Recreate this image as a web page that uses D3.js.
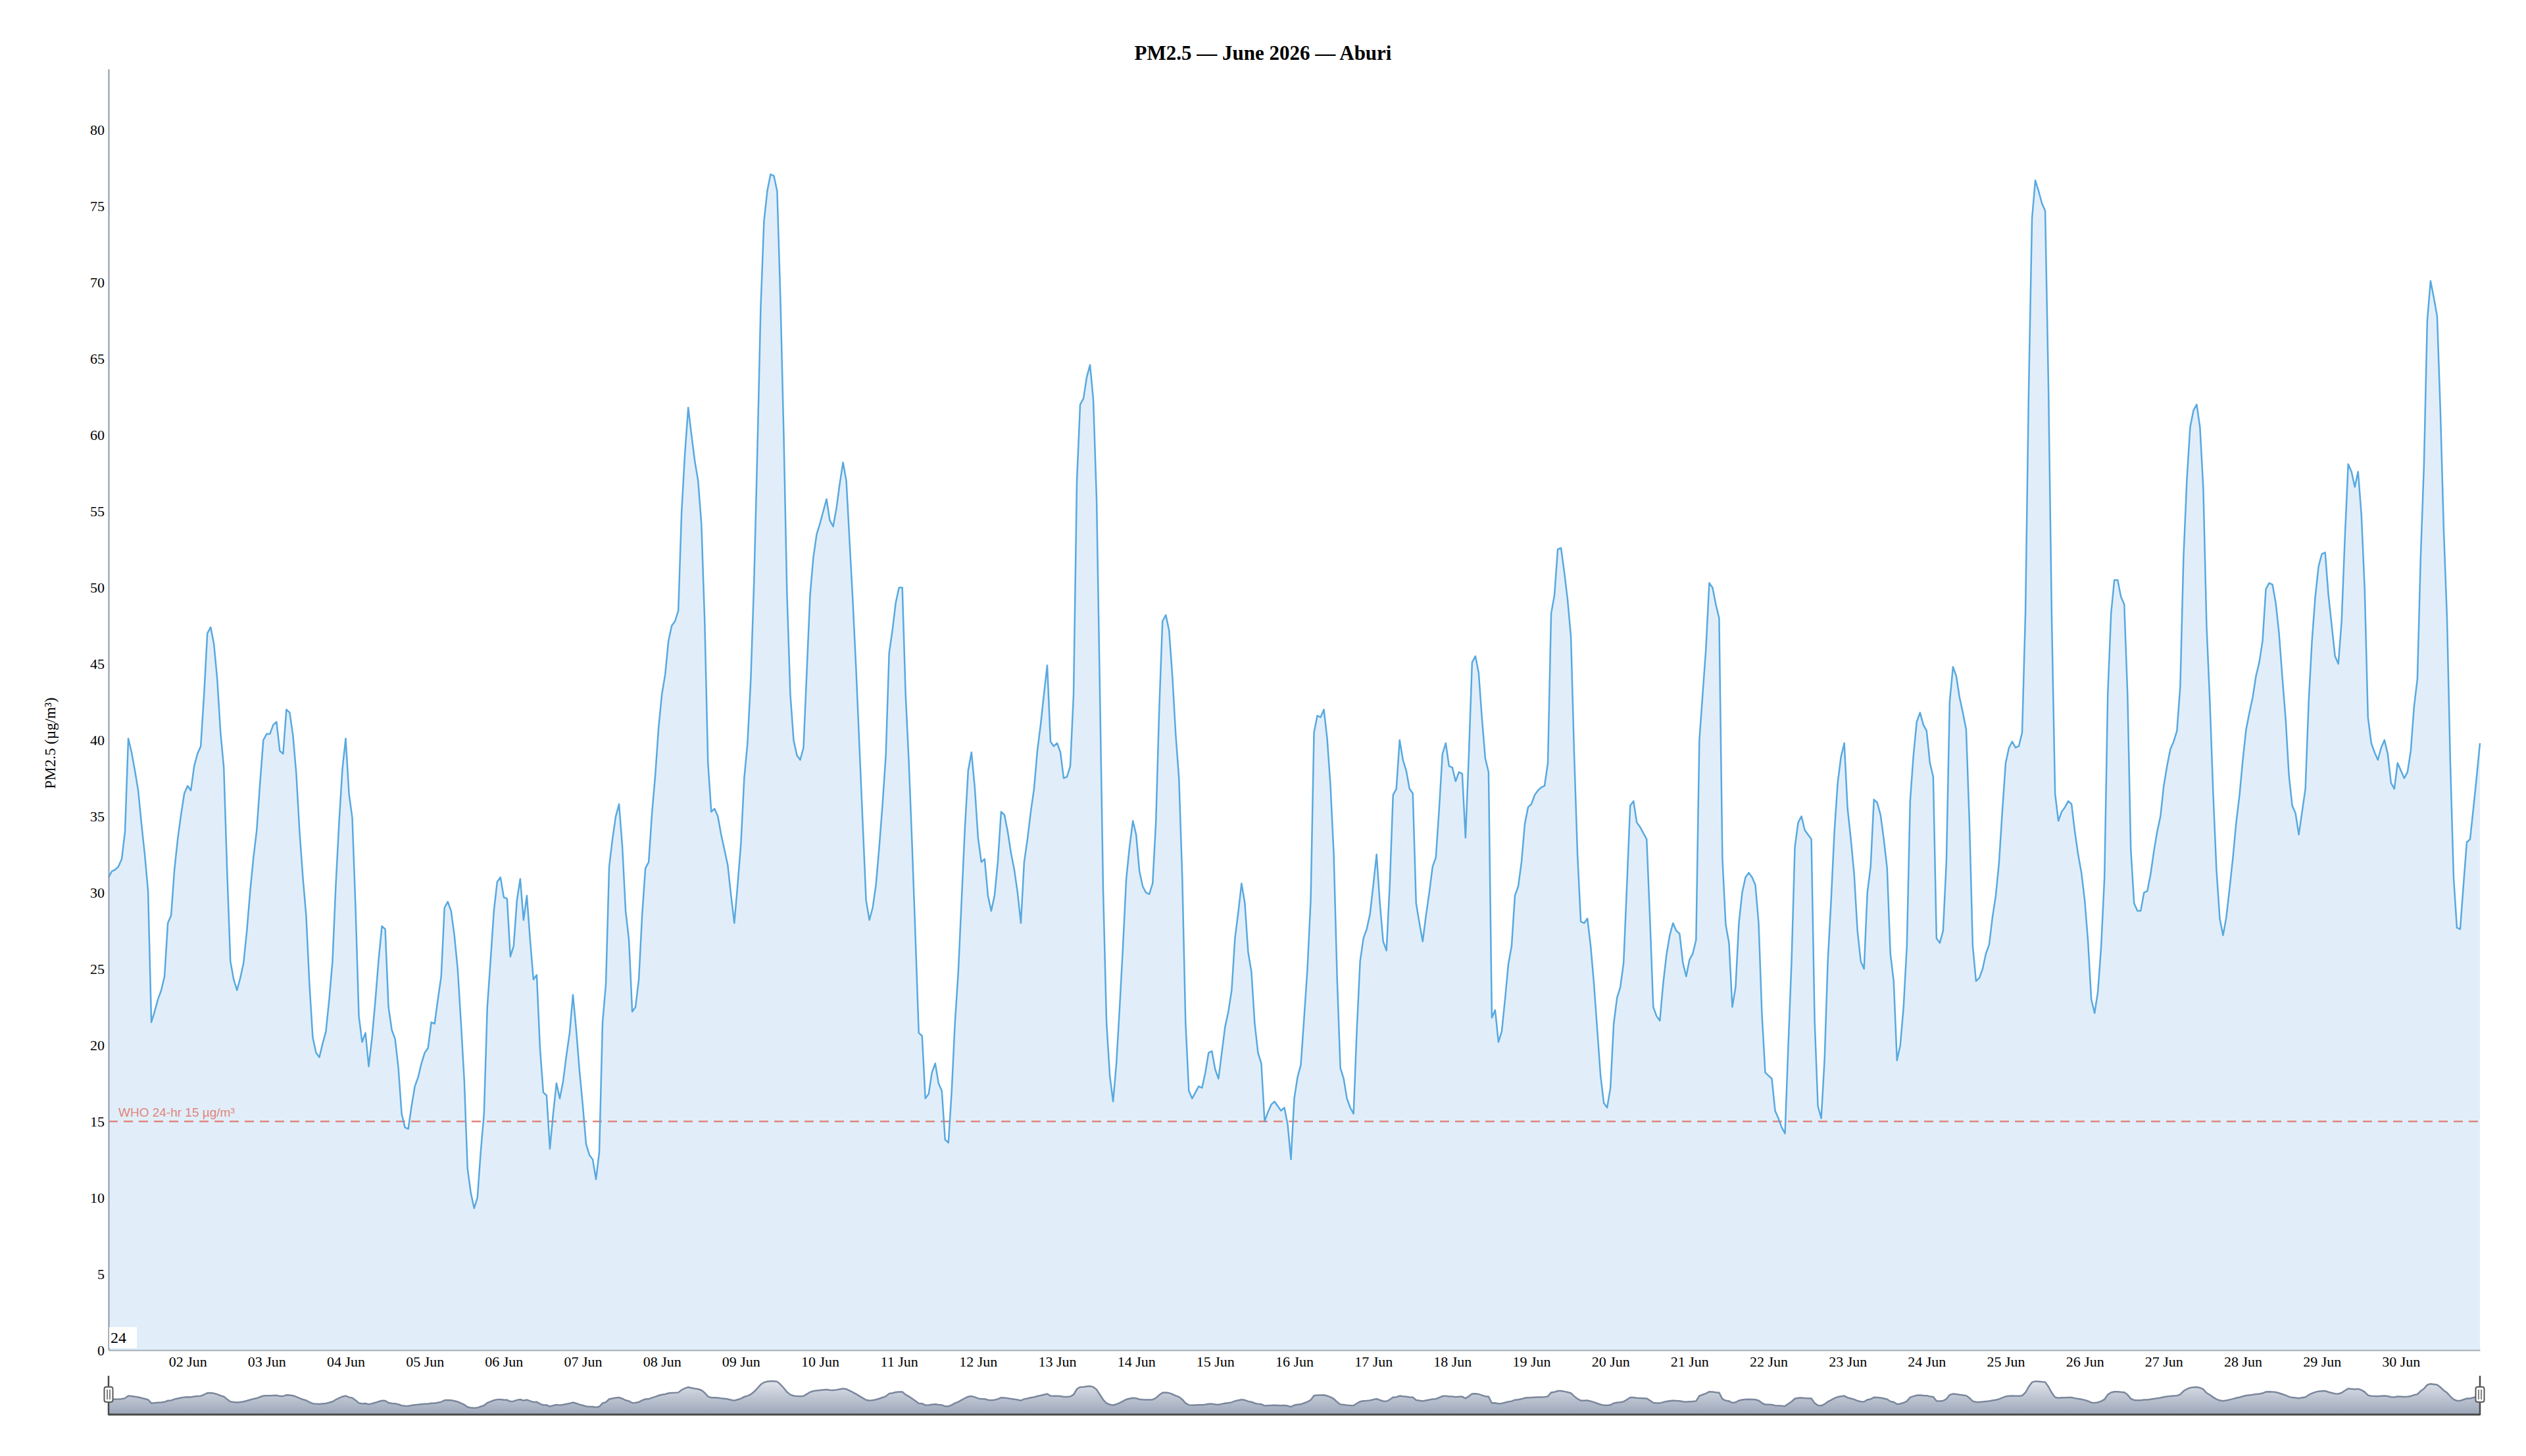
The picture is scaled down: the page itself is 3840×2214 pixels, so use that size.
<!DOCTYPE html>
<html lang="en">
<head>
<meta charset="UTF-8">
<title>PM2.5 — June 2026 — Aburi</title>
<style>
  body { margin: 0; background: #fff; }
  svg text { font-family: "Liberation Serif", "Times New Roman", serif; }
</style>
</head>
<body>
<div id="chart"></div>

<script src="https://cdn.jsdelivr.net/npm/d3@7"></script>

<script>
    // Hourly PM2.5 (µg/m³), one row per day, 00:00 .. 23:00 (UTC)
    var pm25 = [
        /* 01 Jun */ 31.0,31.4,31.5,31.7,32.2,34.0,40.1,39.2,38.0,36.7,34.5,32.5,30.1,21.5,22.2,23.0,23.6,24.5,28.0,28.5,31.5,33.5,35.1,36.5,
        /* 02 Jun */ 37.0,36.7,38.3,39.1,39.6,43.0,47.0,47.4,46.3,44.0,40.5,38.2,31.4,25.5,24.3,23.6,24.4,25.4,27.5,30.1,32.3,34.1,37.2,40.0,
        /* 03 Jun */ 40.4,40.4,41.0,41.2,39.3,39.1,42.0,41.8,40.3,37.8,34.0,31.0,28.5,24.0,20.5,19.5,19.2,20.1,20.9,23.0,25.5,30.5,34.6,38.1,
        /* 04 Jun */ 40.1,36.5,34.9,29.0,21.9,20.2,20.8,18.6,20.5,22.9,25.6,27.8,27.6,22.5,21.0,20.4,18.5,15.5,14.6,14.5,16.0,17.3,17.9,18.8,
        /* 05 Jun */ 19.5,19.8,21.5,21.4,23.0,24.5,29.0,29.4,28.8,27.2,25.0,21.5,17.7,11.9,10.3,9.3,10.0,13.0,15.5,22.5,25.6,28.8,30.7,31.0,
        /* 06 Jun */ 29.7,29.6,25.8,26.5,29.5,30.9,28.2,29.8,26.9,24.3,24.6,19.8,16.9,16.7,13.2,15.5,17.5,16.5,17.6,19.3,20.8,23.3,21.0,18.3,
        /* 07 Jun */ 16.0,13.5,12.8,12.5,11.2,13.0,21.5,24.0,31.7,33.5,35.0,35.8,33.0,28.8,26.9,22.2,22.5,24.3,28.5,31.6,32.0,35.2,37.7,40.8,
        /* 08 Jun */ 43.0,44.3,46.5,47.5,47.8,48.5,55.0,58.8,61.8,60.0,58.3,57.0,54.2,47.8,38.5,35.3,35.5,35.0,33.8,32.8,31.8,29.8,28.0,30.5,
        /* 09 Jun */ 33.2,37.5,39.8,44.0,50.5,59.0,68.3,74.0,76.0,77.1,77.0,76.0,68.9,60.0,49.5,43.0,40.0,39.0,38.7,39.5,44.5,49.5,52.0,53.5,
        /* 10 Jun */ 54.2,55.0,55.8,54.4,54.0,55.2,56.8,58.2,57.0,53.0,49.0,44.5,39.5,34.5,29.5,28.2,29.0,30.5,33.0,35.8,39.0,45.7,47.2,49.0,
        /* 11 Jun */ 50.0,50.0,43.0,38.5,33.0,27.0,20.8,20.6,16.5,16.8,18.2,18.8,17.5,17.0,13.8,13.6,17.0,21.5,24.8,29.5,34.2,38.0,39.2,36.9,
        /* 12 Jun */ 33.6,32.0,32.2,29.8,28.8,29.8,32.0,35.3,35.1,34.0,32.6,31.5,30.0,28.0,32.0,33.5,35.3,36.8,39.3,41.0,43.0,44.9,39.9,39.6,
        /* 13 Jun */ 39.8,39.2,37.5,37.6,38.3,43.0,57.0,62.0,62.4,63.8,64.6,62.3,55.7,43.0,30.0,21.5,18.0,16.3,18.8,22.5,26.5,30.9,33.0,34.7,
        /* 14 Jun */ 33.8,31.4,30.4,30.0,29.9,30.6,34.6,42.0,47.8,48.2,47.2,44.2,40.4,37.5,31.0,21.5,17.0,16.5,16.9,17.3,17.2,18.2,19.5,19.6,
        /* 15 Jun */ 18.4,17.8,19.5,21.2,22.2,23.6,27.0,28.7,30.6,29.3,26.1,24.8,21.4,19.5,18.8,15.0,15.6,16.1,16.3,16.0,15.7,15.9,14.8,12.5,
        /* 16 Jun */ 16.5,17.9,18.7,21.8,25.0,29.5,40.5,41.6,41.5,42.0,40.1,37.0,32.5,24.5,18.5,17.8,16.5,15.9,15.5,21.0,25.5,27.0,27.6,28.6,
        /* 17 Jun */ 30.5,32.5,29.3,26.8,26.2,30.5,36.4,36.8,40.0,38.7,38.0,36.8,36.5,29.3,28.0,26.8,28.5,30.0,31.7,32.3,35.5,39.1,39.8,38.3,
        /* 18 Jun */ 38.2,37.3,37.9,37.8,33.6,39.0,45.1,45.5,44.4,41.4,38.8,37.9,21.8,22.3,20.2,20.9,23.0,25.3,26.5,29.8,30.4,32.0,34.5,35.6,
        /* 19 Jun */ 35.8,36.4,36.7,36.9,37.0,38.5,48.3,49.5,52.5,52.6,51.0,49.2,46.8,39.0,32.5,28.1,28.0,28.3,26.5,24.0,21.0,18.0,16.2,15.9,
        /* 20 Jun */ 17.2,21.4,23.1,23.8,25.4,30.5,35.7,36.0,34.6,34.3,33.9,33.5,28.3,22.5,21.9,21.6,24.0,25.9,27.2,28.0,27.5,27.3,25.4,24.5,
        /* 21 Jun */ 25.6,26.0,26.9,40.0,43.0,46.0,50.3,50.0,48.9,48.0,32.2,27.9,26.7,22.5,23.8,28.0,30.0,31.0,31.3,31.0,30.5,28.0,22.0,18.2,
        /* 22 Jun */ 18.0,17.8,15.7,15.2,14.6,14.2,20.0,25.5,33.0,34.6,35.0,34.1,33.8,33.5,21.6,16.0,15.2,19.0,25.5,29.5,34.0,37.2,38.9,39.8,
        /* 23 Jun */ 35.5,33.5,31.2,27.5,25.5,25.0,30.0,31.7,36.1,35.9,35.1,33.5,31.6,26.0,24.2,19.0,20.0,22.5,26.5,36.0,39.0,41.2,41.8,41.0,
        /* 24 Jun */ 40.6,38.5,37.6,27.0,26.7,27.5,32.0,42.5,44.8,44.2,42.8,41.8,40.7,34.6,26.5,24.2,24.4,25.0,26.0,26.6,28.4,29.8,32.0,35.4,
        /* 25 Jun */ 38.5,39.5,39.9,39.5,39.6,40.5,48.3,63.0,74.2,76.7,76.0,75.2,74.7,63.0,47.8,36.5,34.7,35.3,35.6,36.0,35.8,34.0,32.5,31.3,
        /* 26 Jun */ 29.5,26.8,23.0,22.1,23.5,26.5,31.0,43.0,48.3,50.5,50.5,49.4,48.9,43.0,32.8,29.3,28.8,28.8,30.0,30.1,31.2,32.7,34.0,35.0,
        /* 27 Jun */ 37.0,38.3,39.4,39.9,40.6,43.5,52.0,57.0,60.5,61.6,62.0,60.5,56.5,47.5,42.5,36.5,31.5,28.3,27.2,28.4,30.3,32.3,34.6,36.4,
        /* 28 Jun */ 38.7,40.7,41.8,42.8,44.2,45.1,46.5,49.9,50.3,50.2,49.0,47.0,44.1,41.4,37.7,35.7,35.2,33.8,35.3,36.8,42.5,46.5,49.4,51.4,
        /* 29 Jun */ 52.2,52.3,49.5,47.5,45.5,45.0,47.8,53.3,58.1,57.6,56.6,57.6,54.8,49.9,41.5,39.8,39.2,38.7,39.5,40.0,39.1,37.2,36.8,38.5,
        /* 30 Jun */ 38.0,37.5,37.9,39.3,42.2,44.0,52.0,58.0,67.5,70.1,69.0,67.8,61.5,53.8,48.0,38.5,31.0,27.7,27.6,30.5,33.3,33.5,35.5,37.6,
        /* 01 Jul 00:00 */ 39.8
    ];

    var startTime = Date.UTC(2026, 5, 1, 0, 0);
    var yTicks = [0, 5, 10, 15, 20, 25, 30, 35, 40, 45, 50, 55, 60, 65, 70, 75, 80];
    var dayTicks = d3.range(2, 31).map(d => new Date(Date.UTC(2026, 5, d)));
    var whoLimit = 15;
    var whoLabel = "WHO 24-hr 15 µg/m³";
    var rollPeriod = "24";

    var data = pm25.map((v, i) => ({t: new Date(startTime + i * 3600000), v: v}));

    // Page and plot geometry
    var vp = {width: 3840, height: 2214};
    var plot = {left: 165, right: 3770, top: 105, bottom: 2053};
    var nav = {top: 2092, bottom: 2150};

    var svg = d3.select("#chart").append("svg")
        .attr("width", vp.width)
        .attr("height", vp.height);

    var x = d3.scaleUtc().domain(d3.extent(data, d => d.t)).range([plot.left, plot.right]);
    var y = d3.scaleLinear().domain([0, 84]).range([plot.bottom, plot.top]);

    // Filled area under the series
    svg.append("path")
        .datum(data)
        .attr("fill", "#e1eefa")
        .attr("d", d3.area().x(d => x(d.t)).y0(y(0)).y1(d => y(d.v)));

    // WHO guideline line
    svg.append("line")
        .attr("x1", plot.left).attr("x2", plot.right)
        .attr("y1", y(whoLimit)).attr("y2", y(whoLimit))
        .attr("stroke", "#e0857b")
        .attr("stroke-width", 2.5)
        .attr("stroke-dasharray", "14,9");

    svg.append("text")
        .attr("x", plot.left + 15)
        .attr("y", y(whoLimit) - 7)
        .style("font-family", "'Liberation Sans', Arial, sans-serif")
        .style("font-size", "19px")
        .attr("fill", "#e0857b")
        .text(whoLabel);

    // Series line
    svg.append("path")
        .datum(data)
        .attr("fill", "none")
        .attr("stroke", "#58a9e0")
        .attr("stroke-width", 2.5)
        .attr("stroke-linejoin", "round")
        .attr("d", d3.line().x(d => x(d.t)).y(d => y(d.v)));

    // Axes
    var yAxis = svg.append("g")
        .attr("transform", "translate(" + plot.left + ",0)")
        .call(d3.axisLeft(y).tickValues(yTicks).tickSize(0).tickSizeOuter(0).tickPadding(6));
    yAxis.select(".domain").attr("stroke", "#8a96ab").attr("stroke-width", 2);
    yAxis.selectAll("text").style("font-size", "22px").attr("fill", "#000");

    var xAxis = svg.append("g")
        .attr("transform", "translate(0," + plot.bottom + ")")
        .call(d3.axisBottom(x).tickValues(dayTicks).tickFormat(d3.utcFormat("%d %b"))
            .tickSize(0).tickSizeOuter(0).tickPadding(9));
    xAxis.select(".domain").attr("stroke", "#a3abb6").attr("stroke-width", 2);
    xAxis.selectAll("text").style("font-size", "22px").attr("fill", "#000");

    // Title and y label
    svg.append("text")
        .attr("x", vp.width / 2)
        .attr("y", 91)
        .attr("text-anchor", "middle")
        .style("font-size", "31px")
        .style("font-weight", "bold")
        .text("PM2.5 — June 2026 — Aburi");

    svg.append("text")
        .attr("transform", "translate(84,1130) rotate(-90)")
        .attr("text-anchor", "middle")
        .style("font-size", "23px")
        .text("PM2.5 (µg/m³)");

    // Roll period box in the lower-left corner
    svg.append("rect")
        .attr("x", plot.left + 1).attr("y", plot.bottom - 35)
        .attr("width", 42).attr("height", 32)
        .attr("fill", "#fff");
    svg.append("text")
        .attr("x", plot.left + 3).attr("y", plot.bottom - 11)
        .style("font-size", "24px")
        .text(rollPeriod);

    // Range selector (navigator) below the axis
    var vmin = d3.min(pm25), vmax = d3.max(pm25), vr = vmax - vmin;
    var navY = d3.scaleLinear().domain([vmin - 0.22 * vr, vmax + 0.2 * vr]).range([nav.bottom, nav.top]);

    var grad = svg.append("defs").append("linearGradient")
        .attr("id", "navFill")
        .attr("gradientUnits", "userSpaceOnUse")
        .attr("x1", 0).attr("y1", nav.top).attr("x2", 0).attr("y2", nav.bottom);
    grad.append("stop").attr("offset", "0%").attr("stop-color", "#eceef2");
    grad.append("stop").attr("offset", "100%").attr("stop-color", "#9ca7ba");

    svg.append("path")
        .datum(data)
        .attr("fill", "url(#navFill)")
        .attr("d", d3.area().x(d => x(d.t)).y0(nav.bottom).y1(d => navY(d.v)));

    svg.append("path")
        .datum(data)
        .attr("fill", "none")
        .attr("stroke", "#7b879c")
        .attr("stroke-width", 2.5)
        .attr("d", d3.line().x(d => x(d.t)).y(d => navY(d.v)));

    svg.append("line")
        .attr("x1", plot.left).attr("x2", plot.right)
        .attr("y1", nav.bottom + 1).attr("y2", nav.bottom + 1)
        .attr("stroke", "#4a4a4a").attr("stroke-width", 3);

    [plot.left, plot.right].forEach(function (hx) {
        svg.append("line")
            .attr("x1", hx).attr("x2", hx)
            .attr("y1", nav.top).attr("y2", nav.bottom + 2)
            .attr("stroke", "#4a4a4a").attr("stroke-width", 2.5);
        svg.append("rect")
            .attr("x", hx - 6.5).attr("y", 2109)
            .attr("width", 13).attr("height", 23)
            .attr("rx", 3)
            .attr("fill", "#fff")
            .attr("stroke", "#5a5a5a").attr("stroke-width", 2);
        [-2, 2].forEach(function (off) {
            svg.append("line")
                .attr("x1", hx + off).attr("x2", hx + off)
                .attr("y1", 2113).attr("y2", 2128)
                .attr("stroke", "#5a5a5a").attr("stroke-width", 1.5);
        });
    });
</script>
</body>
</html>
